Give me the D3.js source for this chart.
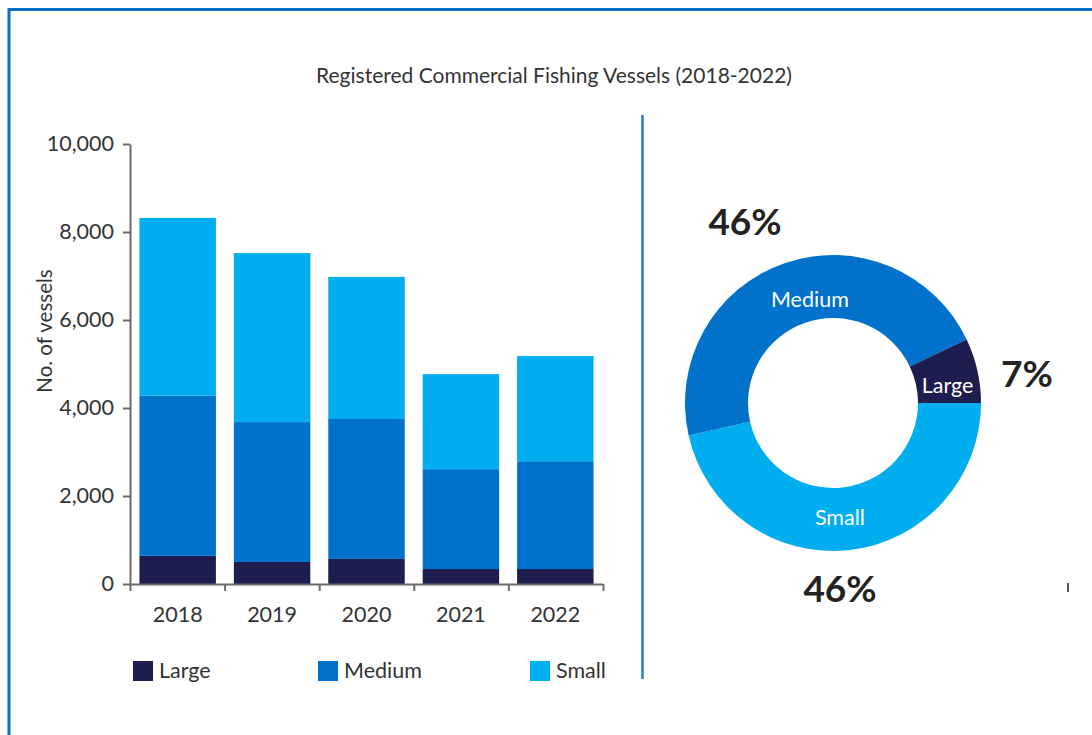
<!DOCTYPE html>
<html>
<head>
<meta charset="utf-8">
<script src="https://cdn.jsdelivr.net/npm/d3@7"></script>
<style>
  html, body { margin: 0; padding: 0; background: #fff; }
  svg { display: block; font-family: Lato, "Open Sans", sans-serif; }
</style>
</head>
<body>
<svg id="chart" width="1092" height="735"></svg>
<script>
// Registered vessels by size class, per year
const years = ["2018", "2019", "2020", "2021", "2022"];
const large = [640, 500, 570, 340, 340];
const medium = [3640, 3180, 3180, 2270, 2450];
const small = [4040, 3840, 3230, 2160, 2390];
const seriesNames = ["Large", "Medium", "Small"];
const yTicks = [0, 2000, 4000, 6000, 8000, 10000];

// Share of fleet by size class (donut)
const shareNames = ["Small", "Medium", "Large"];
const shareValues = [46, 46, 7];

const colors = { Large: "#1e1d50", Medium: "#0072cc", Small: "#00aeef" };

const svg = d3.select("#chart");

// Frame
svg.append("line").attr("x1", 8).attr("x2", 1092).attr("y1", 9.5).attr("y2", 9.5)
  .attr("stroke", "#0a70c6").attr("stroke-width", 3);
svg.append("line").attr("x1", 9).attr("x2", 9).attr("y1", 8).attr("y2", 735)
  .attr("stroke", "#0a70c6").attr("stroke-width", 3);

// Title
svg.append("text").attr("x", 554).attr("y", 83).attr("text-anchor", "middle")
  .attr("font-size", 21).attr("fill", "#333").text("Registered Commercial Fishing Vessels (2018-2022)");

// Divider
svg.append("line").attr("x1", 642.5).attr("x2", 642.5).attr("y1", 115).attr("y2", 679)
  .attr("stroke", "#1a7fdb").attr("stroke-width", 2.5);

// ---- Stacked bars ----
const plotL = 130, plotR = 603, plotT = 144, plotB = 584;
const x = d3.scaleBand().domain(years).range([plotL, plotR]).paddingInner(0.19).paddingOuter(0.1);
const y = d3.scaleLinear().domain([0, 10000]).range([plotB, plotT]);

const rows = years.map((yr, i) => ({ year: yr, Large: large[i], Medium: medium[i], Small: small[i] }));
const stacked = d3.stack().keys(seriesNames)(rows);

svg.append("g").selectAll("g").data(stacked).join("g")
  .attr("fill", d => colors[d.key])
  .selectAll("rect").data(d => d).join("rect")
  .attr("x", d => x(d.data.year))
  .attr("width", x.bandwidth())
  .attr("y", d => y(d[1]))
  .attr("height", d => y(d[0]) - y(d[1]));

// Y axis
const yAxis = svg.append("g").attr("transform", `translate(${plotL},0)`)
  .call(d3.axisLeft(y).tickValues(yTicks).tickFormat(d3.format(",")).tickSize(7).tickPadding(9).tickSizeOuter(0));
yAxis.select(".domain").attr("stroke", "#6b6b6b").attr("stroke-width", 2);
yAxis.selectAll(".tick line").attr("stroke", "#6b6b6b").attr("stroke-width", 2);
yAxis.selectAll(".tick text").attr("font-size", 21.5).attr("fill", "#333").attr("font-family", "Lato");

// X axis: ticks at category boundaries, labels centred under bars
const xEdges = d3.scaleLinear().domain([0, years.length]).range([plotL, plotR]);
const xAxis = svg.append("g").attr("transform", `translate(0,${plotB})`)
  .call(d3.axisBottom(xEdges).tickValues(d3.range(years.length + 1)).tickFormat("").tickSize(7).tickSizeOuter(0));
xAxis.select(".domain").attr("stroke", "#6b6b6b").attr("stroke-width", 2);
xAxis.selectAll(".tick line").attr("stroke", "#6b6b6b").attr("stroke-width", 2);

svg.append("g").selectAll("text").data(years).join("text")
  .attr("x", d => x(d) + x.bandwidth() / 2)
  .attr("y", 622)
  .attr("text-anchor", "middle")
  .attr("font-size", 21.5).attr("fill", "#333")
  .text(d => d);

// Y axis title
svg.append("text")
  .attr("transform", "translate(52,331) rotate(-90)")
  .attr("text-anchor", "middle")
  .attr("font-size", 20.5).attr("fill", "#333")
  .text("No. of vessels");

// Legend
const legendX = [133, 318, 530];
const legend = svg.append("g").selectAll("g").data(seriesNames).join("g")
  .attr("transform", (d, i) => `translate(${legendX[i]},661)`);
legend.append("rect").attr("width", 20).attr("height", 20).attr("fill", d => colors[d]);
legend.append("text").attr("x", 26).attr("y", 16.5).attr("font-size", 21.5).attr("fill", "#333").text(d => d);

// ---- Donut ----
const cx = 833, cy = 403, rOuter = 148, rInner = 85;
const pie = d3.pie().sort(null).value(d => d.value)
  .startAngle(Math.PI / 2).endAngle(Math.PI / 2 + 2 * Math.PI);
const shares = shareNames.map((n, i) => ({ name: n, value: shareValues[i] }));
const arcs = pie(shares);
const arc = d3.arc().innerRadius(rInner).outerRadius(rOuter);
const labelArc = d3.arc().innerRadius((rInner + rOuter) / 2).outerRadius((rInner + rOuter) / 2);

const donut = svg.append("g").attr("transform", `translate(${cx},${cy})`);
donut.selectAll("path").data(arcs).join("path")
  .attr("d", arc).attr("fill", d => colors[d.data.name]);

const nudge = { Small: [-6, -2], Medium: [15, 6], Large: [1, 8] };
donut.selectAll("text.inner").data(arcs).join("text")
  .attr("class", "inner")
  .attr("x", d => labelArc.centroid(d)[0] + nudge[d.data.name][0])
  .attr("y", d => labelArc.centroid(d)[1] + nudge[d.data.name][1])
  .attr("text-anchor", "middle").attr("dominant-baseline", "central")
  .attr("font-size", 21.5).attr("fill", "#fff")
  .text(d => d.data.name);

// Percentage call-outs
const pctPos = { Medium: [-88, -168], Large: [194, -16], Small: [7, 199] };
donut.selectAll("text.pct").data(arcs).join("text")
  .attr("class", "pct")
  .attr("x", d => pctPos[d.data.name][0])
  .attr("y", d => pctPos[d.data.name][1])
  .attr("text-anchor", "middle")
  .attr("font-size", 37).attr("font-weight", "bold").attr("fill", "#222")
  .text(d => d.data.value + "%");

// Stray tick mark at right
svg.append("line").attr("x1", 1068).attr("x2", 1068).attr("y1", 583).attr("y2", 592)
  .attr("stroke", "#555").attr("stroke-width", 2);
</script>
</body>
</html>
